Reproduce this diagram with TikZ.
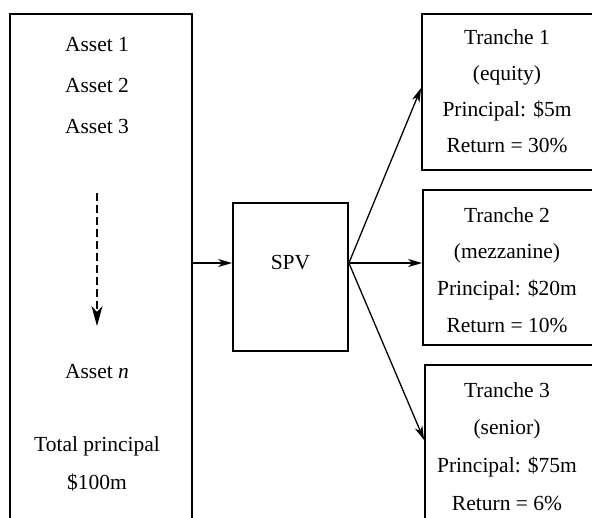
\documentclass[tikz,border=0pt]{standalone}
\usepackage{fontspec}
\setmainfont{Liberation Serif}
\usetikzlibrary{arrows.meta}

\begin{document}
\begin{tikzpicture}
		[x=1pt, y=-1pt,
		every node/.style={align=center, inner sep=0pt, font=\fontsize{21.5}{36}\selectfont},
		box/.style={draw, line width=1.8pt, minimum width=#1},
		flow/.style={-{Stealth[length=14pt, width=8pt, inset=4pt]}, line width=1.3pt},
		]

		\clip (0,0) rectangle (592,517);

		% Kasten links (Pool der Assets), unten abgeschnitten
		\node[box=182pt, minimum height=546pt] (pool) at (101,287) {};
		\node[font=\fontsize{21.5}{41}\selectfont] (assets) at (97,86) {Asset 1\\Asset 2\\Asset 3};
		\coordinate (dots top) at (97,193);
		\coordinate (dots end) at (97,326);
		\draw[dash pattern=on 8pt off 4pt, line width=1.4pt, -{Stealth[length=20pt, width=11pt, inset=6pt]}] (dots top) -- (dots end);
		\node (assetn) at (97,372) {Asset \textit{n}};
		\node[font=\fontsize{21.5}{38}\selectfont] (total) at (97,464) {Total principal\\\$100m};

		% SPV in der Mitte
		\node[box=115pt, minimum height=148pt] (spv) at (290.5,277) {};
		\node (spvlabel) at (290.5,263) {SPV};

		% die drei Tranchen rechts
		\node[box=188pt, minimum height=156pt] (t1) at (516,92) {};
		\node[box=187pt, minimum height=155pt] (t2) at (516.5,267.5) {};
		\node[box=185pt, minimum height=160pt] (t3) at (517.5,445) {};
		\node (t1text) at (507,91) {Tranche 1\\(equity)\\Principal: \$5m\\Return = 30\%};
		\node[font=\fontsize{21.5}{36.7}\selectfont] (t2text) at (507,270) {Tranche 2\\(mezzanine)\\Principal: \$20m\\Return = 10\%};
		\node[font=\fontsize{21.5}{37.7}\selectfont] (t3text) at (507,446.5) {Tranche 3\\(senior)\\Principal: \$75m\\Return = 6\%};

		\draw[flow] (pool.east |- spvlabel) -- (spv.west |- spvlabel);
		\draw[flow] (spv.east |- spvlabel) -- (t1.west |- 0,88);
		\draw[flow] (spv.east |- spvlabel) -- (t2.west |- spvlabel);
		\draw[flow] (spv.east |- spvlabel) -- (t3.west |- 0,440);
	\end{tikzpicture}
\end{document}
